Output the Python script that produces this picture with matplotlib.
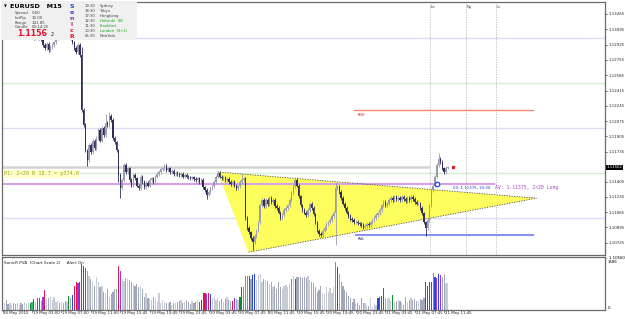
import matplotlib
matplotlib.use('Agg')
import matplotlib.pyplot as plt
import numpy as np
from matplotlib.patches import Rectangle, Polygon

# ---------------- data: EURUSD M15, prices in pips (price * 10000) ----------------
close_pips = [
    11309, 11311, 11306, 11303, 11309, 11312, 11305, 11302, 11308, 11310,
    11304, 11301, 11305, 11309, 11311, 11306, 11303, 11300, 11302, 11305,
    11300, 11298, 11292, 11289, 11293, 11286, 11290, 11292, 11295, 11300,
    11310, 11306, 11312, 11308, 11304, 11309, 11303, 11300, 11295, 11289,
    11284, 11292, 11281, 11220, 11203, 11175, 11164, 11181, 11173, 11186,
    11178, 11189, 11198, 11186, 11200, 11192, 11206, 11203, 11213, 11209,
    11189, 11184, 11175, 11148, 11133, 11142, 11159, 11151, 11155, 11142,
    11136, 11148, 11144, 11136, 11133, 11146, 11140, 11134, 11139, 11136,
    11142, 11144, 11140, 11146, 11149, 11151, 11154, 11155, 11158, 11153,
    11155, 11151, 11152, 11149, 11150, 11149, 11148, 11149, 11146, 11148,
    11146, 11145, 11144, 11145, 11143, 11142, 11144, 11140, 11142, 11134,
    11131, 11126, 11129, 11133, 11135, 11140, 11146, 11150, 11146, 11144,
    11145, 11142, 11143, 11140, 11138, 11140, 11136, 11133, 11135, 11140,
    11142, 11144, 11100, 11089, 11084, 11078, 11073, 11080, 11086, 11095,
    11114, 11120, 11113, 11120, 11115, 11122, 11118, 11120, 11113, 11111,
    11106, 11100, 11103, 11109, 11111, 11114, 11120, 11128, 11135, 11142,
    11136, 11124, 11114, 11109, 11106, 11103, 11109, 11116, 11111, 11104,
    11095, 11086, 11082, 11081, 11086, 11089, 11093, 11095, 11098, 11102,
    11106, 11133, 11135, 11129, 11122, 11116, 11111, 11106, 11102, 11099,
    11098, 11095, 11096, 11094, 11093, 11092, 11090, 11091, 11093, 11092,
    11095, 11098, 11100, 11103, 11105, 11109, 11114, 11118, 11114, 11116,
    11120, 11122, 11120, 11123, 11121, 11122, 11120, 11123, 11121, 11119,
    11122, 11120, 11123, 11121, 11118, 11116, 11116, 11111, 11105, 11095,
    11089, 11098, 11114, 11131, 11136, 11146, 11159, 11166, 11162, 11155,
    11151, 11156, 11156,
]
# bars with long wicks (pips)
high_pips = {43: 11290, 56: 11215, 58: 11218, 130: 11150, 159: 11146, 181: 11140, 237: 11172}
low_pips = {46: 11158, 63: 11140, 64: 11122, 111: 11121, 136: 11064, 181: 11070, 230: 11080}

# SonicR PVA tick volume
volumes = [
    272, 238, 340, 204, 238, 170, 238, 204, 238, 170, 238, 204, 272, 204, 238,
    238, 272, 374, 272, 408, 408, 306, 442, 646,
    374, 408, 442, 340, 442, 272, 306, 238, 272, 238, 306, 272, 476, 408, 510,
    782, 918, 884, 918, 1530, 1462, 1394,
    1292, 1122, 1020, 952, 782, 1088, 918, 748, 782, 612, 578, 680, 442, 544, 612, 680,
    680, 1462, 1292,
    1020, 952, 1054, 1020, 986, 918, 850, 782, 850, 748, 782, 680, 442, 578, 408, 374,
    340, 442, 408, 272, 578, 238, 340, 272, 238, 238, 272, 170, 238, 238, 272, 306,
    340, 238, 272, 340, 272, 204, 306, 238, 272, 340,
    272, 340, 578, 578, 544, 578, 544,
    408, 442, 340, 408, 306, 374, 272, 374, 442, 340, 306,
    306, 408, 374, 340, 442, 748, 748, 1122, 1122, 1122, 1020, 1156, 1190,
    986, 1156, 1190, 918, 1020, 986, 952, 850, 918, 748, 782, 680, 918, 748, 680, 782, 816, 748, 850,
    1020, 1122, 1020, 1088,
    1088, 1088, 1054, 1088, 1054, 1122, 986, 918, 884, 748, 612, 646, 782, 578, 544, 748,
    612, 714, 578, 748, 1586, 1428, 1190,
    918, 782, 646, 612, 476, 408, 272, 374, 238, 238, 170, 408, 238, 238, 170, 136, 408, 102, 204, 170,
    408, 442, 476, 714, 408, 374, 408, 306, 510,
    272, 306, 340, 306, 272, 170, 442, 272, 340, 408, 340, 374, 306,
    306, 374, 340, 408,
    918, 782, 918, 918, 1224, 1088, 1054, 1190, 1156, 1088, 1190, 884, 884,
]
vol_codes = {15: 'D', 16: 'G', 17: 'r', 19: 'p', 20: 'p', 22: 'p', 23: 'r', 36: 'D', 38: 'b',
             39: 'r', 40: 'r', 41: 'p', 42: 'r', 43: 'r', 44: 'r', 45: 'p', 63: 'r', 64: 'p',
             107: 'p', 108: 'b', 109: 'r', 110: 'r', 111: 'p', 112: 'r', 113: 'b', 125: 'r',
             126: 'p', 129: 'D', 130: 'r', 131: 'G', 132: 'G', 133: 'G', 134: 'r', 136: 'b',
             137: 'b', 157: 'G', 159: 'r', 181: 'G', 182: 'b', 204: 'b', 205: 'D', 206: 'D',
             207: 'D', 212: 'D', 230: 'r', 231: 'r', 232: 'r', 233: 'r', 234: 'G', 235: 'b',
             236: 'p', 237: 'b', 238: 'p'}
code_colours = {'r': '#e0174a', 'p': '#9a34e8', 'b': '#2a44e0', 'G': '#34c070', 'D': '#0a9030'}

time_labels = ['18 May 2015', '19 May 03:00', '19 May 07:00', '19 May 11:00', '19 May 15:45',
               '19 May 19:45', '19 May 23:45', '20 May 03:45', '20 May 07:45', '20 May 11:45',
               '20 May 15:45', '20 May 19:45', '20 May 23:45', '21 May 03:45', '21 May 07:45',
               '21 May 11:45']
label_bars = [0, 16, 32, 48, 64, 80, 96, 112, 128, 144, 160, 176, 192, 208, 224, 240]

axis_prices = [1.13265, 1.13095, 1.12925, 1.12755, 1.12585, 1.12415, 1.12245, 1.12075,
               1.11905, 1.11735, 1.11405, 1.11235, 1.11065, 1.10895, 1.10725]
last_price = 1.11562
round_levels = [(1.1300, '#dcdcfa'), (1.1250, '#d2efd2'), (1.1200, '#dcdcfa'),
                (1.1150, '#d2efd2'), (1.1100, '#dcdcfa')]
entry_price = 1.11375
rdh_price, rwl_price = 1.1220, 1.1081
session_bars = [232.1, 251.6, 267.9]
session_names = ['Lo', 'Ny', 'Lc']
tri_bars = [116.8, 133.7, 290.2]
tri_prices = [1.1151, 1.1062, 1.1122]

W, H = 625, 319
def fx(x):
    return x / W
def fy(y):
    return 1 - y / H

AX_FS = 2.8   # MT4 axis font is tiny

fig = plt.figure(figsize=(W / 100, H / 100), dpi=100)
fig.patch.set_facecolor('white')
ax = fig.add_axes([fx(2), fy(255), fx(603), 253 / H])
axv = fig.add_axes([fx(2), fy(310), fx(603), 53 / H])

x0, x1 = -0.3, 327.4
for a in (ax, axv):
    a.set_xlim(x0, x1)
    for s in a.spines.values():
        s.set_color('#6a6a6a')
        s.set_linewidth(0.9)
    a.tick_params(left=False, labelleft=False, bottom=False, labelbottom=False)

ax.set_ylim(1.10589, 1.13398)

# round number levels
for lv, c in round_levels:
    ax.axhline(lv, color=c, lw=1.0, zorder=1)

# triangle
tri = Polygon(list(zip(tri_bars, tri_prices)), closed=True, facecolor='#fdfd5e',
              edgecolor='none', zorder=1.5)
ax.add_patch(tri)
ax.plot([tri_bars[0], tri_bars[2]], [tri_prices[0], tri_prices[2]], ls=(0, (1.5, 1.5)),
        color='#505050', lw=0.6, zorder=2)
ax.plot([tri_bars[1], tri_bars[2]], [tri_prices[1], tri_prices[2]], ls=(0, (1.5, 1.5)),
        color='#505050', lw=0.6, zorder=2)

# bid line / entry line
ax.plot([x0, 232], [last_price, last_price], color='#d4d4d4', lw=1.8, zorder=1.2)
ax.plot([x0, 267], [entry_price, entry_price], color='#d8a0e6', lw=1.5, zorder=1.8)

# RDH / RWL
ax.plot([191, 288], [rdh_price, rdh_price], color='#f48a6a', lw=1.0, zorder=2)
ax.text(193, rdh_price - 0.0003, 'RDH', color='#e03030', fontsize=3.0, va='top',
        family='DejaVu Sans Mono')
ax.plot([192, 288], [rwl_price, rwl_price], color='#8a90f0', lw=1.5, zorder=2)
ax.text(193, rwl_price - 0.0002, 'RWL', color='#303070', fontsize=3.0, va='top',
        family='DejaVu Sans Mono')

# session lines
for b, nm in zip(session_bars, session_names):
    ax.axvline(b, color='#b8b8b8', lw=0.6, ls=(0, (1.5, 1.5)), zorder=1.1)
    ax.text(b + 0.8, 1.13345, nm, color='#404080', fontsize=3.0, va='center')

# candles
closes = np.array(close_pips) / 1e4
n = len(closes)
xs = np.arange(n)
opens = np.r_[closes[0], closes[:-1]]
highs = np.maximum(opens, closes) + 0.0002
lows = np.minimum(opens, closes) - 0.0002
for i, v in high_pips.items():
    highs[i] = v / 1e4
for i, v in low_pips.items():
    lows[i] = v / 1e4
up = closes >= opens
cols = np.where(up, '#9a9ab0', '#2e2e58')
ax.vlines(xs, lows, highs, colors=cols, lw=0.6, zorder=3)
body = closes - opens
body = np.where(np.abs(body) < 0.00004, 0.00004, body)
ax.bar(xs, body, bottom=opens, width=0.75, color=cols, lw=0, zorder=3)

# markers
ax.plot(235.9, entry_price, 'o', mfc='white', mec='#2040ff', ms=3.2, mew=0.9, zorder=4)
ax.plot(244.6, last_price, 's', color='#e02020', ms=1.4, zorder=4)

# texts on chart
ax.text(0.003, 1.1149, 'P1: 2<20 B 18.7 = p374.0', color='#98a020', fontsize=3.7,
        family='DejaVu Sans Mono', va='center', transform=ax.get_yaxis_transform(),
        bbox=dict(boxstyle='square,pad=0.25', fc='#ffffc8', ec='none'), zorder=5)
ax.text(245, entry_price - 0.0004, '00: 1.11375, 10:30', color='#2030c0', fontsize=2.8,
        va='center', zorder=5)
ax.text(267.5, entry_price - 0.0004, 'AV: 1.11375, 2<20 Long', color='#b040c8', fontsize=3.4,
        family='DejaVu Sans Mono', va='center', zorder=5)

# right price axis
ax.yaxis.tick_right()
ax.set_yticks(axis_prices)
ax.set_yticklabels(['%.5f' % p for p in axis_prices])
ax.tick_params(axis='y', right=True, labelright=True, length=1.5, width=0.5, pad=0.8,
               labelsize=AX_FS, colors='#202020')
ax.text(1.0, 1.10555, ' - 1.10560', transform=ax.get_yaxis_transform(), fontsize=AX_FS,
        va='center', clip_on=False)
ax.text(1.003, last_price, '%.5f' % last_price, transform=ax.get_yaxis_transform(),
        fontsize=AX_FS, color='white', va='center', ha='left', clip_on=False,
        bbox=dict(boxstyle='square,pad=0.15', fc='black', ec='none'), zorder=6)

# volume panel
vx = np.arange(len(volumes))
vcols = []
for i in vx:
    if i in vol_codes:
        vcols.append(code_colours[vol_codes[i]])
    elif i < n and up[i]:
        vcols.append('#c8ccd6')
    else:
        vcols.append('#a0a8ba')
axv.bar(vx, volumes, width=0.65, color=vcols, lw=0)
axv.set_ylim(0, 1755)
axv.text(0.004, 0.93, 'SonicR PVA  (Chart Scale 2)     Alert On', transform=axv.transAxes,
         fontsize=3.0, va='top', color='#202020')
axv.text(1.004, 1586, '1586', transform=axv.get_yaxis_transform(), fontsize=AX_FS, va='center')
axv.text(1.004, 60, '0', transform=axv.get_yaxis_transform(), fontsize=AX_FS, va='center')

# time axis
for b, lab in zip(label_bars, time_labels):
    axv.plot([b, b], [0, -70], color='#404040', lw=0.5, clip_on=False)
    axv.text(b + 0.5, -100, lab, fontsize=AX_FS, va='center', ha='left', color='#202020',
             clip_on=False)

# info box in the corner
fig.add_artist(Rectangle((fx(1), fy(40)), fx(136), 39 / H, transform=fig.transFigure,
                         facecolor='#f0f0f0', edgecolor='none', zorder=5))
fig.text(fx(4), fy(7), '\u25bc', fontsize=2.6, va='center', zorder=6)
fig.text(fx(10), fy(7), 'EURUSD   M15', fontsize=4.6, fontweight='bold', va='center', zorder=6)
info_rows = [('Spread', '0.60'), ('LotPip', '10.00'), ('Range', '141.85'), ('Candle', '00:14:25')]
for k, (a, b) in enumerate(info_rows):
    fig.text(fx(15), fy(13 + 4.8 * k), a, fontsize=2.8, color='#404040', va='center', zorder=6)
    fig.text(fx(32), fy(13 + 4.8 * k), b, fontsize=2.8, color='#404040', va='center', zorder=6)
fig.text(fx(17), fy(34), '1.1156', fontsize=5.6, fontweight='bold', color='#e8102a',
         va='center', zorder=6)
fig.text(fx(51), fy(35), '2', fontsize=3.6, color='#202020', va='center', zorder=6)
sonic = [('S', '#1e3ce6'), ('o', '#3a3ad8'), ('n', '#8030b8'), ('i', '#c02070'),
         ('c', '#e02040'), ('R', '#e01020')]
for k, (ch, c) in enumerate(sonic):
    fig.text(fx(72), fy(6 + 6.2 * k), ch, fontsize=4.4, fontweight='bold', color=c,
             ha='center', va='center', zorder=6)
sessions = [('19:30', 'Sydney', '#404040'), ('18:30', 'Tokyo', '#404040'),
            ('17:30', 'Hongkong', '#404040'), ('12:30', 'Helsinki  (B)', '#10a010'),
            ('11:30', 'Frankfurt', '#10a010'), ('10:30', 'London  (S+1)', '#10a010'),
            ('05:30', 'NewYork', '#404040')]
for k, (t, city, c) in enumerate(sessions):
    fig.text(fx(85), fy(6 + 5 * k), t, fontsize=2.7, color='#404040', va='center', zorder=6)
    fig.text(fx(100), fy(6 + 5 * k), city, fontsize=2.7, color=c, va='center', zorder=6)

fig.savefig('out.png', dpi=100)
